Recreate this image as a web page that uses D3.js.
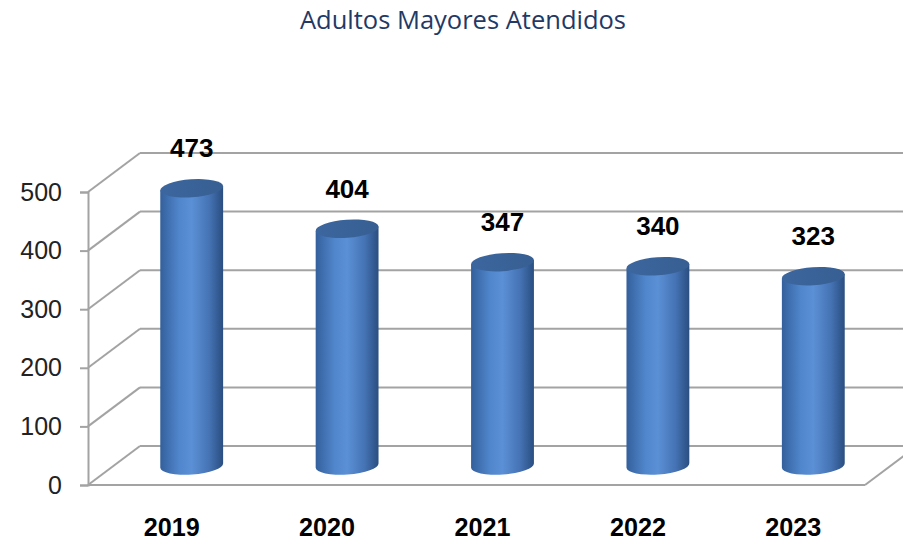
<!DOCTYPE html>
<html>
<head>
<meta charset="utf-8">
<script src="https://cdn.jsdelivr.net/npm/d3@7"></script>
<style>
  body { margin: 0; background: #fff; }
</style>
</head>
<body>
<div id="chart"></div>
<script>
// data
const years = ['2019', '2020', '2021', '2022', '2023'];
const attended = [473, 404, 347, 340, 323];
const tickValues = [0, 100, 200, 300, 400, 500];

// layout
const width = 903, height = 542;
const front = {left: 88, right: 865, bottom: 485, top: 192};
const depth = {dx: 52, dy: -39};

const svg = d3.select('#chart')
  .append('svg')
  .attr('width', width)
  .attr('height', height);

// gradients for the cylinders
const defs = svg.append('defs');
const body = defs.append('linearGradient').attr('id', 'cylBody')
  .attr('x1', '0%').attr('x2', '100%').attr('y1', '0%').attr('y2', '0%');
[['0%', '#34609c'], ['30%', '#5086cc'], ['50%', '#5b90d6'], ['78%', '#4573b4'], ['100%', '#2a4e80']]
  .forEach(s => body.append('stop').attr('offset', s[0]).attr('stop-color', s[1]));
const cap = defs.append('linearGradient').attr('id', 'cylTop')
  .attr('x1', '0%').attr('x2', '100%').attr('y1', '0%').attr('y2', '0%');
[['0%', '#3c669e'], ['100%', '#375f93']]
  .forEach(s => cap.append('stop').attr('offset', s[0]).attr('stop-color', s[1]));

// scales (front plane)
const xScale = d3.scaleBand()
  .domain(years)
  .range([front.left, front.right]);

const yScale = d3.scaleLinear()
  .domain([0, 500])
  .range([front.bottom, front.top]);

// title
svg.append('text')
  .attr('x', 463)
  .attr('y', 29)
  .attr('text-anchor', 'middle')
  .style('font-family', 'Open Sans, sans-serif')
  .style('font-size', '25.5px')
  .style('fill', '#1f3a66')
  .text('Adultos Mayores Atendidos');

// walls and gridlines
const grid = svg.append('g')
  .attr('stroke', '#a3a3a3')
  .attr('stroke-width', 2)
  .attr('fill', 'none');

tickValues.forEach(v => {
  const y = yScale(v);
  // side wall diagonal
  grid.append('line')
    .attr('x1', front.left).attr('y1', y)
    .attr('x2', front.left + depth.dx).attr('y2', y + depth.dy);
  // back wall line
  grid.append('line')
    .attr('x1', front.left + depth.dx).attr('y1', y + depth.dy)
    .attr('x2', width + 40).attr('y2', y + depth.dy);
});

// floor front edge and right edge
grid.append('line')
  .attr('x1', front.left).attr('y1', front.bottom)
  .attr('x2', front.right).attr('y2', front.bottom);
grid.append('line')
  .attr('x1', front.right).attr('y1', front.bottom)
  .attr('x2', front.right + depth.dx).attr('y2', front.bottom + depth.dy);

// y axis
const yAxis = d3.axisLeft(yScale)
  .tickValues(tickValues)
  .tickSize(8)
  .tickPadding(18);

const yg = svg.append('g')
  .attr('transform', 'translate(' + front.left + ',0)')
  .call(yAxis);
yg.select('.domain').attr('stroke', '#a3a3a3').attr('stroke-width', 2);
yg.selectAll('.tick line').attr('stroke', '#a3a3a3').attr('stroke-width', 2);
yg.selectAll('.tick text')
  .style('font-family', 'Liberation Sans, Arial, sans-serif')
  .style('font-size', '25px')
  .style('fill', '#222');

// cylinders, placed halfway into the depth, caps tilted slightly
const rx = 31.5, ry = 9, tilt = -4;
const cosT = Math.cos(tilt * Math.PI / 180), sinT = Math.sin(tilt * Math.PI / 180);
const midX = d => xScale(d) + xScale.bandwidth() / 2 + depth.dx / 2;
const midY = v => yScale(v) + depth.dy / 2;

const bars = svg.append('g').selectAll('g.bar')
  .data(years.map((y, i) => ({year: y, value: attended[i]})))
  .join('g')
  .attr('class', 'bar');

bars.append('path')
  .attr('fill', 'url(#cylBody)')
  .attr('d', d => {
    const cx = midX(d.year), y0 = midY(0), y1 = midY(d.value);
    const lx = cx - rx * cosT, rxp = cx + rx * cosT;
    const ly = -rx * sinT, ryp = rx * sinT;
    return 'M' + lx + ',' + (y1 + ly) +
      ' L' + lx + ',' + (y0 + ly) +
      ' A' + rx + ',' + ry + ' ' + tilt + ' 0 0 ' + rxp + ',' + (y0 + ryp) +
      ' L' + rxp + ',' + (y1 + ryp) + ' Z';
  });

bars.append('ellipse')
  .attr('cx', d => midX(d.year))
  .attr('cy', d => midY(d.value))
  .attr('rx', rx)
  .attr('ry', ry)
  .attr('fill', 'url(#cylTop)')
  .attr('transform', d => 'rotate(' + tilt + ',' + midX(d.year) + ',' + midY(d.value) + ')');

// value labels
bars.append('text')
  .attr('x', d => midX(d.year))
  .attr('y', d => midY(d.value) - 31)
  .attr('text-anchor', 'middle')
  .style('font-family', 'Liberation Sans, Arial, sans-serif')
  .style('font-weight', 'bold')
  .style('font-size', '26px')
  .style('fill', '#000')
  .text(d => d.value);

// category labels
svg.append('g').selectAll('text')
  .data(years)
  .join('text')
  .attr('x', d => xScale(d) + xScale.bandwidth() / 2 + 6)
  .attr('y', 536)
  .attr('text-anchor', 'middle')
  .attr('textLength', 56)
  .attr('lengthAdjust', 'spacingAndGlyphs')
  .style('font-family', 'Liberation Sans, Arial, sans-serif')
  .style('font-weight', 'bold')
  .style('font-size', '26px')
  .style('fill', '#000')
  .text(d => d);
</script>
</body>
</html>
